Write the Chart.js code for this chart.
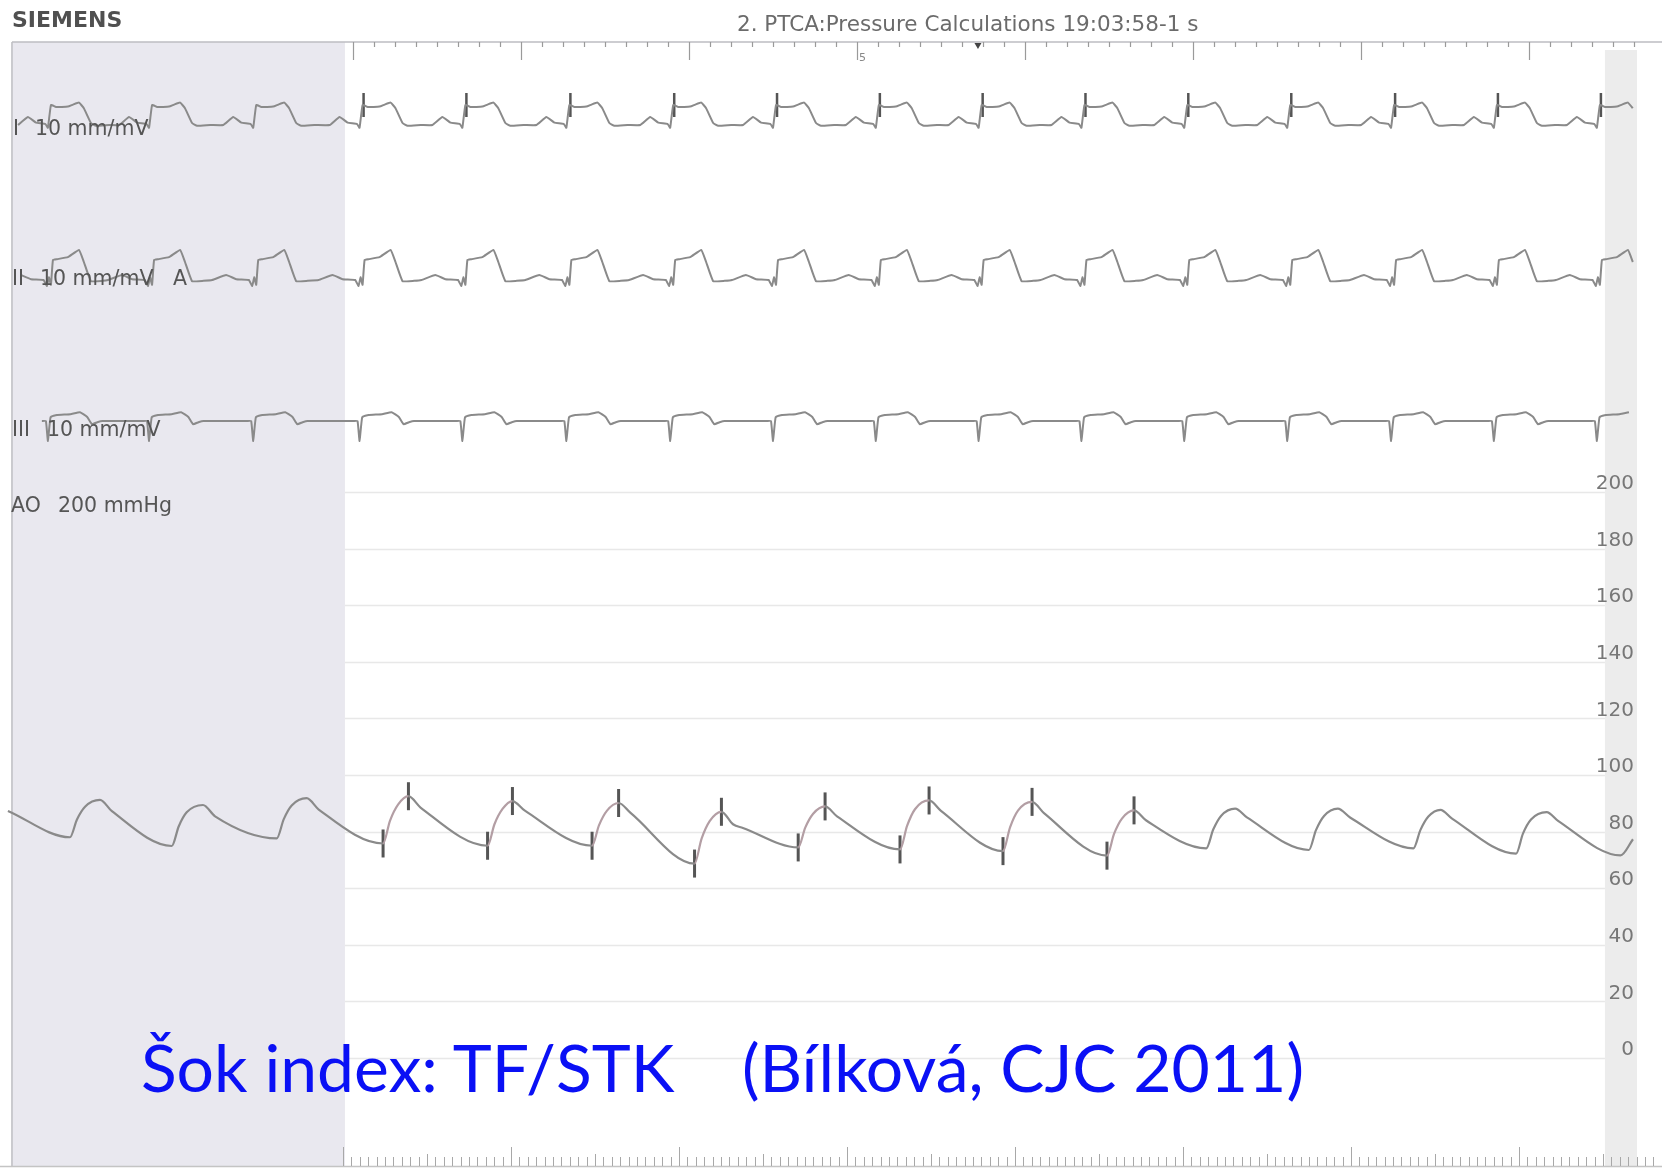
<!DOCTYPE html>
<html>
<head>
<meta charset="utf-8">
<title>PTCA Pressure Calculations</title>
<script src="https://cdn.jsdelivr.net/npm/chart.js@4.4.1/dist/chart.umd.min.js"></script>
<style>
  body { margin: 0; background: #fff; }
  #wrap { position: relative; width: 1662px; height: 1170px; overflow: hidden; font-family: "DejaVu Sans", sans-serif; }
  #wrap canvas { position: absolute; left: 0; top: 0; }
  .t { position: absolute; line-height: 1; white-space: nowrap; }
  .brand { font-weight: bold; font-size: 22px; color: #505050; }
  .title { font-size: 21.5px; color: #6b6b6b; }
  .lead { font-size: 20.5px; color: #555; }
  .note { font-family: Lato, "Open Sans", sans-serif; font-size: 66px; color: #0a10f5; }
</style>
</head>
<body>
<div id="wrap">
  <canvas id="chart" width="1662" height="1170"></canvas>
  <div class="t brand" style="left:12px;top:9px">SIEMENS</div>
  <div class="t title" style="left:737px;top:13px">2. PTCA:Pressure Calculations 19:03:58-1 s</div>
  <div class="t lead" style="left:13px;top:118px">I</div>
  <div class="t lead" style="left:35px;top:118px">10 mm/mV</div>
  <div class="t lead" style="left:12px;top:268px">II</div>
  <div class="t lead" style="left:40px;top:268px">10 mm/mV</div>
  <div class="t lead" style="left:173px;top:268px">A</div>
  <div class="t lead" style="left:12px;top:419px">III</div>
  <div class="t lead" style="left:47px;top:419px">10 mm/mV</div>
  <div class="t lead" style="left:11px;top:495px">AO</div>
  <div class="t lead" style="left:58px;top:495px">200 mmHg</div>
  <div class="t note" style="left:141px;top:1034px">Šok index: TF/STK</div>
  <div class="t note" style="left:742px;top:1034px">(Bílková, CJC 2011)</div>
</div>
<script>
// beat onsets (s), read from lead I
const beatTimes = [0.208, 0.810, 1.430, 2.063, 2.675, 3.294, 3.912, 4.524,
                   5.136, 5.748, 6.360, 6.972, 7.585, 8.203, 8.815, 9.428];
// pacing spikes marked on lead I
const spikeTimes = [2.063, 2.675, 3.294, 3.912, 4.524, 5.136, 5.748,
                    6.360, 6.972, 7.585, 8.203, 8.815, 9.428];
const spikeMv = 0.5;

// one beat of each lead: time from onset (s) / amplitude (mV)
const leadIT   = [-0.202, -0.143, -0.095, -0.040, -0.024, -0.006, 0.024, 0.095, 0.125, 0.161, 0.190, 0.232, 0.262, 0.340];
const leadIMv  = [0, 0.20, 0.06, 0.03, -0.07, 0.50, 0.45, 0.46, 0.51, 0.56, 0.42, 0.05, -0.02, 0];
const leadIIT  = [-0.268, -0.185, -0.125, -0.050, -0.030, -0.018, -0.006, 0.006, 0.030, 0.095, 0.161, 0.190, 0.232, 0.300];
const leadIIMv = [0, 0.125, 0.02, 0, -0.15, 0.07, -0.12, 0.50, 0.52, 0.57, 0.75, 0.45, -0.03, -0.02];
const leadIIIT  = [-0.060, -0.036, -0.024, -0.008, 0.030, 0.110, 0.167, 0.210, 0.238, 0.270, 0.300];
const leadIIIMv = [0, 0, -0.50, 0.10, 0.15, 0.17, 0.22, 0.10, -0.08, -0.03, 0];

// aortic pressure (mmHg)
const aoTimes = [-0.054,
  0.315, 0.357, 0.405, 0.494, 0.565,
  0.921, 0.963, 1.010, 1.107, 1.179,
  1.546, 1.588, 1.635, 1.724, 1.796,
  2.179, 2.220, 2.268, 2.330, 2.402,
  2.801, 2.842, 2.890, 2.949, 3.021,
  3.423, 3.464, 3.512, 3.581, 3.652,
  4.033, 4.075, 4.123, 4.193, 4.262, 4.321,
  4.650, 4.692, 4.739, 4.810, 4.881,
  5.256, 5.298, 5.345, 5.429, 5.500,
  5.869, 5.911, 5.958, 6.042, 6.113,
  6.488, 6.530, 6.577, 6.649, 6.720,
  7.079, 7.121, 7.168, 7.251, 7.321,
  7.690, 7.732, 7.780, 7.862, 7.935,
  8.312, 8.354, 8.401, 8.473, 8.542,
  8.923, 8.964, 9.012, 9.105, 9.173,
  9.545, 9.619];
const aoValues = [87.3,
  78.0, 84.3, 88.8, 91.2, 87.2,
  74.9, 81.9, 86.8, 89.4, 85.4,
  77.6, 84.4, 89.2, 91.8, 87.8,
  75.8, 83.8, 89.5, 92.5, 88.5,
  75.0, 82.6, 88.0, 90.8, 87.5,
  75.0, 82.2, 87.4, 90.1, 86.6,
  68.7, 77.5, 83.7, 87.0, 82.6, 81.3,
  74.4, 81.4, 86.3, 88.9, 85.4,
  73.7, 82.0, 87.9, 91.0, 87.3,
  73.1, 81.5, 87.4, 90.5, 86.5,
  71.5, 79.2, 84.6, 87.5, 84.0,
  74.1, 80.8, 85.6, 88.1, 85.0,
  73.5, 80.5, 85.5, 88.1, 85.0,
  74.1, 80.6, 85.3, 87.7, 84.6,
  72.2, 79.3, 84.3, 86.9, 83.8,
  71.6, 77.3];
// diastolic / systolic markers on the paced beats
const aoMarkTimes  = [2.179, 2.330, 2.801, 2.949, 3.423, 3.581, 4.033, 4.193,
                      4.650, 4.810, 5.256, 5.429, 5.869, 6.042, 6.488, 6.649];
const aoMarkValues = [75.8, 92.5, 75.0, 90.8, 75.0, 90.1, 68.7, 87.0,
                      74.4, 88.9, 73.7, 91.0, 73.1, 90.5, 71.5, 87.5];

const pressureTicks = [0, 20, 40, 60, 80, 100, 120, 140, 160, 180, 200];

// layout
const X_MIN = -0.1012, X_MAX = 9.625;
const traceStart = -0.03, traceEnd = 9.625;
const leadBase = { I: -3.125, II: -7.0, III: -10.525 };
const shadeStart = -0.03, shadeEnd = 1.952;
const stripStart = 9.452, stripEnd = 9.643;
const traceColor = '#8a8a8a';
const riseColor = '#b39ea4';
const markColor = '#555';

function buildLead(shapeT, shapeMv, base) {
    const pts = [];
    beatTimes.forEach(b => {
        shapeT.forEach((dt, i) => {
            const t = b + dt;
            if (t >= traceStart && t <= traceEnd) pts.push({ x: t, y: base + shapeMv[i] });
        });
    });
    return pts.sort((a, b) => a.x - b.x);
}

function leadDataset(pts) {
    return { data: pts, yAxisID: 'ecg', borderColor: traceColor, borderWidth: 2, tension: 0.1, pointRadius: 0 };
}

function markDataset(pts, axis, r, w) {
    return {
        data: pts, yAxisID: axis, showLine: false,
        pointStyle: 'line', pointRotation: 90, pointRadius: r,
        pointBorderWidth: w, pointBorderColor: markColor, pointBackgroundColor: markColor
    };
}

// keep the plot area on the whole canvas
function noPad(s) {
    s.paddingLeft = 0; s.paddingRight = 0; s.paddingTop = 0; s.paddingBottom = 0;
}

// background: shaded zones, rulers, pressure grid
const decor = {
    id: 'decor',
    beforeDraw(c) {
        const ctx = c.ctx, x = c.scales.x, y = c.scales.y;
        const px = t => x.getPixelForValue(t);
        ctx.save();
        ctx.fillStyle = '#fff';
        ctx.fillRect(0, 0, c.width, c.height);

        ctx.fillStyle = '#e9e8ef';
        ctx.fillRect(px(shadeStart), 42, px(shadeEnd) - px(shadeStart), 1124);
        ctx.fillStyle = '#ececec';
        ctx.fillRect(px(stripStart), 50, px(stripEnd) - px(stripStart), 1116);

        ctx.strokeStyle = '#bdbdc2';
        ctx.lineWidth = 1.5;
        ctx.beginPath();
        ctx.moveTo(px(shadeStart), 42); ctx.lineTo(px(shadeStart), 1166);
        ctx.moveTo(px(shadeStart), 42); ctx.lineTo(c.width, 42);
        ctx.stroke();

        // pressure grid
        ctx.strokeStyle = '#e8e8e8';
        ctx.lineWidth = 1.5;
        ctx.beginPath();
        pressureTicks.forEach(v => {
            const yy = Math.round(y.getPixelForValue(v)) + 0.5;
            ctx.moveTo(px(shadeEnd), yy);
            ctx.lineTo(px(stripStart), yy);
        });
        ctx.stroke();

        // top ruler
        ctx.strokeStyle = '#9a9a9a';
        ctx.lineWidth = 1.2;
        ctx.beginPath();
        for (let t = 2; t <= X_MAX; t += 0.125) {
            const major = Math.abs(t - Math.round(t)) < 1e-6;
            const xx = Math.round(px(t)) + 0.5;
            ctx.moveTo(xx, 42);
            ctx.lineTo(xx, major ? 60 : 47);
        }
        ctx.stroke();
        ctx.fillStyle = '#888';
        ctx.font = '11px "DejaVu Sans", sans-serif';
        ctx.textAlign = 'left';
        ctx.fillText('5', px(5) + 2, 61);
        // event marker
        const mx = px(5.72);
        ctx.fillStyle = '#444';
        ctx.beginPath();
        ctx.moveTo(mx - 3.5, 43); ctx.lineTo(mx + 3.5, 43); ctx.lineTo(mx, 49);
        ctx.closePath();
        ctx.fill();

        // bottom ruler
        ctx.strokeStyle = '#c4c4c4';
        ctx.lineWidth = 1.5;
        ctx.beginPath();
        ctx.moveTo(0, 1166.5); ctx.lineTo(c.width, 1166.5);
        ctx.stroke();
        ctx.strokeStyle = '#a8a8a8';
        ctx.lineWidth = 1;
        ctx.beginPath();
        for (let k = 0; k * 0.05 + 1.94 <= X_MAX + 0.2; k++) {
            const xx = Math.round(px(1.94 + k * 0.05)) + 0.5;
            const h = k % 20 === 0 ? 19 : (k % 10 === 0 ? 12 : 9);
            ctx.moveTo(xx, 1166);
            ctx.lineTo(xx, 1166 - h);
        }
        ctx.stroke();
        ctx.restore();
    }
};

const aoData = aoTimes.map((t, i) => ({ x: t, y: aoValues[i] }));
const aoMarks = aoMarkTimes.map((t, i) => ({ x: t, y: aoMarkValues[i] }));
const spikeMarks = spikeTimes.map(t => ({ x: t, y: leadBase.I + spikeMv }));
const markedFrom = aoMarkTimes[0], markedTo = aoMarkTimes[aoMarkTimes.length - 1];

new Chart(document.getElementById('chart'), {
    type: 'line',
    data: {
        datasets: [
            leadDataset(buildLead(leadIT, leadIMv, leadBase.I)),
            leadDataset(buildLead(leadIIT, leadIIMv, leadBase.II)),
            leadDataset(buildLead(leadIIIT, leadIIIMv, leadBase.III)),
            markDataset(spikeMarks, 'ecg', 12, 2.5),
            {
                data: aoData, yAxisID: 'y', borderColor: traceColor, borderWidth: 2.2,
                cubicInterpolationMode: 'monotone', pointRadius: 0,
                // upstrokes of the marked beats print slightly pink
                segment: {
                    borderColor: s => (s.p1.parsed.y > s.p0.parsed.y &&
                        s.p0.parsed.x >= markedFrom && s.p1.parsed.x <= markedTo) ? riseColor : undefined
                }
            },
            markDataset(aoMarks, 'y', 14, 3)
        ]
    },
    options: {
        responsive: false,
        animation: false,
        devicePixelRatio: 1,
        layout: { autoPadding: false, padding: { left: 0, right: 28, top: 0, bottom: 0 } },
        plugins: { legend: { display: false }, tooltip: { enabled: false } },
        scales: {
            x: { type: 'linear', min: X_MIN, max: X_MAX, display: false, afterFit: noPad },
            y: {
                type: 'linear', position: 'right', min: -39.6, max: 373.9,
                afterBuildTicks: s => { s.ticks = pressureTicks.map(v => ({ value: v })); },
                afterFit: s => { s.width = 0; noPad(s); },
                grid: { display: false, drawTicks: false },
                border: { display: false },
                ticks: {
                    mirror: true, padding: 0, labelOffset: -8, color: '#777',
                    font: { family: '"DejaVu Sans", sans-serif', size: 20 }
                }
            },
            ecg: { type: 'linear', display: false, min: -29.25, max: 0, afterFit: noPad }
        }
    },
    plugins: [decor]
});
</script>
</body>
</html>
